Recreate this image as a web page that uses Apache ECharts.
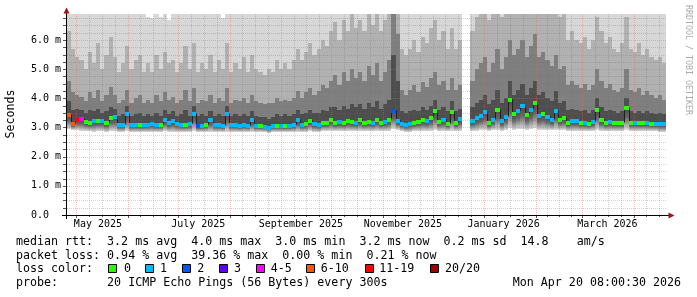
<!DOCTYPE html>
<html><head><meta charset="utf-8">
<script src="https://cdn.jsdelivr.net/npm/echarts@6/dist/echarts.min.js"></script>
<style>html,body{margin:0;padding:0;background:#fff}#c{width:697px;height:297px}</style>
</head><body><div id="c"></div><script>
// ---- data (values in ms, one step = 2.5 days, 144 steps over 360 days) ----
const STEP_DAYS = 2.5;
const median = [
3.45,3.15,3.3,3.32,3.22,3.2,3.27,3.25,3.26,3.2,
3.36,3.38,3.12,3.12,3.48,3.13,3.13,3.12,3.13,3.11,
3.14,3.12,3.13,3.3,3.2,3.25,3.17,3.13,3.13,3.15,
3.48,3.09,3.1,3.13,3.3,3.12,3.12,3.1,3.5,3.12,
3.13,3.1,3.12,3.1,3.28,3.1,3.08,3.06,3.02,3.08,
3.1,3.08,3.1,3.1,3.12,3.3,3.12,3.15,3.25,3.15,
3.12,3.2,3.18,3.3,3.2,3.22,3.2,3.25,3.22,3.2,
3.28,3.2,3.22,3.2,3.3,3.2,3.22,3.28,3.6,3.25,
3.15,3.13,3.15,3.2,3.22,3.3,3.25,3.35,3.6,3.22,
3.28,3.17,3.58,3.18,3.32,null,null,3.26,3.36,3.44,
3.55,3.2,3.3,3.63,3.26,3.4,3.98,3.49,3.6,3.78,
3.46,3.62,3.86,3.44,3.49,3.38,3.29,3.6,3.3,3.36,
3.2,3.24,3.24,3.2,3.2,3.17,3.22,3.65,3.3,3.2,
3.22,3.2,3.18,3.2,3.7,3.2,3.18,3.2,3.18,3.2,
3.17,3.16,3.15,3.15];
const lossCount = [
8,7,12,4,0,0,1,0,1,0,
0,1,1,1,1,1,1,0,1,1,
1,1,0,1,1,1,1,1,0,1,
1,2,1,0,1,1,1,1,1,1,
1,1,1,1,1,1,0,1,1,1,
0,1,0,1,1,1,1,0,0,1,
1,0,0,0,0,1,0,0,0,1,
0,0,0,1,0,0,1,0,2,1,
1,1,1,0,0,0,1,0,0,0,
1,0,0,0,1,null,null,1,1,1,
1,0,1,0,1,1,0,0,1,1,
0,1,0,1,0,1,1,1,0,0,
0,1,1,0,1,0,1,0,0,0,
1,0,0,0,0,0,1,0,0,1,
0,1,1,1];
const pingMin = [
2.95,2.9,2.9,2.88,2.87,2.88,2.86,2.87,2.88,2.86,
2.87,2.88,2.86,2.85,2.87,2.86,2.85,2.86,2.85,2.86,
2.85,2.86,2.85,2.87,2.86,2.86,2.85,2.86,2.85,2.86,
2.87,2.84,2.85,2.86,2.86,2.85,2.85,2.84,2.86,2.85,
2.86,2.84,2.85,2.84,2.86,2.84,2.83,2.83,2.82,2.83,
2.84,2.83,2.84,2.84,2.85,2.86,2.85,2.86,2.87,2.86,
2.86,2.87,2.87,2.88,2.87,2.88,2.87,2.88,2.87,2.87,
2.88,2.87,2.88,2.87,2.88,2.87,2.88,2.88,2.95,2.9,
2.87,2.86,2.86,2.87,2.87,2.88,2.88,2.89,2.9,2.88,
2.88,2.87,2.89,2.87,2.88,null,null,2.88,2.89,2.9,
2.92,2.88,2.9,2.93,2.89,2.91,2.97,2.92,2.94,2.96,
2.92,2.94,2.97,2.92,2.93,2.91,2.9,2.93,2.9,2.91,
2.88,2.89,2.89,2.88,2.88,2.87,2.88,2.92,2.89,2.88,
2.88,2.88,2.87,2.88,2.92,2.88,2.87,2.88,2.87,2.88,
2.87,2.87,2.86,2.86];
const smokeP1 = [
3.9,3.6,3.65,3.6,3.5,3.6,3.55,3.65,3.5,3.55,
3.7,3.65,3.4,3.45,3.75,3.4,3.45,3.5,3.4,3.45,
3.4,3.5,3.4,3.6,3.45,3.55,3.4,3.45,3.6,3.4,
3.75,3.4,3.45,3.4,3.55,3.4,3.45,3.4,3.75,3.4,
3.45,3.4,3.45,3.4,3.55,3.4,3.35,3.35,3.3,3.35,
3.45,3.4,3.45,3.4,3.45,3.6,3.45,3.5,3.6,3.5,
3.5,3.6,3.55,3.7,3.7,3.6,3.75,3.65,3.8,3.7,
3.8,3.65,3.85,3.7,3.9,3.65,3.8,3.95,5.5,4.6,
3.55,3.5,3.55,3.6,3.55,3.7,3.6,3.75,3.95,3.6,
3.7,3.55,3.9,3.55,3.65,null,null,3.7,3.85,3.95,
4.1,3.8,3.95,4.3,3.85,4.0,4.6,4.1,4.3,4.5,
4.1,4.35,4.6,4.1,4.2,4.0,3.9,4.25,3.85,3.9,
3.6,3.65,3.6,3.55,3.6,3.5,3.6,4.0,3.7,3.55,
3.6,3.55,3.5,3.55,4.0,3.55,3.5,3.55,3.5,3.55,
3.5,3.45,3.5,3.45];
const smokeP2 = [
4.6,4.2,4.1,4.05,3.9,4.2,4.0,4.3,3.9,4.1,
4.4,4.1,3.85,3.95,4.3,3.85,4.0,4.1,3.85,3.95,
3.85,4.1,3.9,4.2,3.95,4.05,3.85,3.95,4.3,3.9,
4.35,3.85,3.95,3.9,4.1,3.85,4.0,3.9,4.35,3.85,
3.95,3.9,4.0,3.85,4.1,3.9,3.85,3.8,3.85,3.85,
4.0,3.9,3.95,3.9,4.0,4.25,4.0,4.2,4.35,4.1,
4.25,4.45,4.35,4.6,4.8,4.45,4.9,4.6,5.0,4.7,
4.9,4.6,5.1,4.8,5.2,4.6,4.9,5.3,7.2,6.2,
4.3,4.1,4.3,4.45,4.2,4.55,4.4,4.7,4.9,4.45,
4.6,4.3,4.7,4.3,4.45,null,null,4.6,5.0,5.2,
5.4,4.9,5.2,5.7,5.0,5.4,6.0,5.5,5.7,6.0,
5.4,5.8,6.2,5.4,5.6,5.3,5.1,5.5,5.0,5.1,
4.45,4.6,4.45,4.35,4.5,4.3,4.45,5.0,4.6,4.35,
4.5,4.3,4.2,4.35,5.0,4.3,4.2,4.35,4.1,4.25,
4.1,4.0,4.1,3.95];
const smokeP3 = [
6.3,5.7,5.4,5.3,5.0,5.6,5.2,5.9,5.0,5.5,
6.1,5.4,4.9,5.2,5.8,5.0,5.3,5.5,4.9,5.2,
4.9,5.5,5.0,5.6,5.2,5.3,4.9,5.2,5.8,5.0,
5.9,4.9,5.2,5.0,5.5,4.9,5.3,5.0,5.9,4.9,
5.2,5.0,5.4,4.9,5.5,5.0,4.9,4.8,5.0,4.9,
5.3,5.0,5.2,5.0,5.3,5.7,5.3,5.6,5.9,5.5,
5.7,6.0,5.8,6.3,6.6,6.0,6.7,6.3,6.9,6.4,
6.7,6.3,7.0,6.5,7.2,6.3,6.7,7.3,8.8,8.2,
5.7,5.5,5.7,6.0,5.6,6.1,5.9,6.4,6.7,6.0,
6.3,5.7,6.4,5.7,6.0,null,null,6.3,6.8,7.0,
7.4,6.7,7.1,7.7,6.8,7.3,8.1,7.4,7.7,8.1,
7.3,7.8,8.4,7.3,7.6,7.2,6.9,7.4,6.8,6.9,
6.0,6.3,6.0,5.9,6.1,5.7,6.0,6.8,6.3,5.9,
6.1,5.7,5.6,5.9,6.8,5.7,5.6,5.9,5.5,5.7,
5.4,5.3,5.4,5.2];
const pingMax = [
11.5,10.2,9.8,9.4,9.1,10.3,9.5,10.8,9.2,9.9,
11.0,9.7,8.9,9.3,10.4,9.0,9.6,9.8,8.8,6.8,
6.75,9.9,6.8,10.0,6.7,9.6,8.9,9.4,10.3,9.0,
10.6,8.8,9.3,9.1,9.9,8.9,9.6,6.75,10.5,8.9,
9.4,9.1,9.7,8.9,9.8,9.1,8.9,8.7,9.0,8.9,
9.5,9.0,9.4,9.1,9.6,10.2,9.6,10.1,10.6,9.9,
10.2,10.7,10.4,11.1,11.6,10.7,11.8,11.2,12.1,11.3,
11.8,11.2,12.3,11.5,12.6,11.2,11.8,12.7,14.5,13.8,
10.2,9.9,10.2,10.7,10.0,10.8,10.5,11.3,11.8,10.7,
11.2,10.2,11.3,10.2,10.7,null,null,11.2,11.9,12.3,
12.9,11.8,12.4,13.4,12.0,12.7,14.0,12.9,13.4,14.0,
12.7,13.6,14.5,12.7,13.2,12.6,12.1,12.9,12.0,12.1,
10.7,11.1,10.7,10.5,10.8,10.2,10.7,11.9,11.1,10.5,
10.8,10.2,10.0,10.5,11.9,10.2,10.0,10.5,9.9,10.2,
9.7,9.5,9.7,9.4];

// axis: days since 25 Apr 2025 08:00
const monthStartDays = [5.67,36.67,66.67,97.67,128.67,158.67,189.67,219.67,250.67,281.67,309.67,340.67];
const xLabelDays = [18.6,78.9,140.6,201.9,262.4,324.8];
const xLabelText = ['May 2025','July 2025','September 2025','November 2025','January 2026','March 2026'];
const yTickValues = [0,1,2,3,4,5,6];
const Y_MAX = 6.89, X_MAX = 360;

// legend
const rttStats = [['3.2','avg'],['4.0','max'],['3.0','min'],['3.2','now'],['0.2','sd']];
const lossStats = [['0.94','avg'],['39.36','max'],['0.00','min'],['0.21','now']];
const lossLabels = ['0','1','2','3','4-5','6-10','11-19','20/20'];
const lossColors = ['#26ff00','#00b8ff','#0059ff','#5e00ff','#ff00ff','#ff5500','#ff0000','#a10000'];
const probeText = 'probe:       20 ICMP Echo Pings (56 Bytes) every 300s';
const dateText = 'Mon Apr 20 08:00:30 2026';

// ---- rendering ----
const MONO = '"DejaVu Sans Mono", monospace';
function lossBand(n){ if(n<=0)return 0; if(n<=1)return 1; if(n<=2)return 2; if(n<=3)return 3; if(n<=5)return 4; if(n<=10)return 5; if(n<=19)return 6; return 7; }

const smokeData = [], medData = [];
for (let i = 0; i < median.length; i++) {
  if (median[i] == null) continue;
  const x0 = i * STEP_DAYS, x1 = (i + 1) * STEP_DAYS;
  smokeData.push([x0, x1, pingMin[i], median[i], smokeP1[i], smokeP2[i], smokeP3[i], pingMax[i]]);
  const prev = i > 0 && median[i-1] != null ? median[i-1] : NaN;
  medData.push([x0, x1, median[i], prev, lossBand(lossCount[i])]);
}
const gridData = [];
monthStartDays.forEach((d, k) => {
  gridData.push([0, d]);
  const next = k + 1 < monthStartDays.length ? monthStartDays[k+1] : d + 30;
  const q = (next - d) / 4;
  for (let j = 1; j < 4; j++) if (d + j*q < X_MAX) gridData.push([1, d + j*q]);
});
for (let v = 0.25; v < Y_MAX; v += 0.25) {
  if (Math.abs(v - Math.round(v)) < 1e-6) gridData.push([2, v]); else gridData.push([3, v]);
}

const lowGrad = new echarts.graphic.LinearGradient(0,0,0,1,[
  {offset:0,color:'#464646'},{offset:0.45,color:'#666666'},{offset:1,color:'#dadada'}]);
const SMOKE_FILLS = [lowGrad, '#4e4e4e', '#7f7f7f', '#b1b1b1', '#d7d7d7'];

function smokeItem(params, api) {
  const cs = params.coordSys, top = cs.y, bot = cs.y + cs.height;
  const xa = Math.round(api.coord([api.value(0), 0])[0]);
  const xb = Math.round(api.coord([api.value(1), 0])[0]);
  const lv = [2,3,4,5,6,7].map(k => api.value(k));
  const kids = [];
  for (let k = 0; k < 5; k++) {
    let y1 = Math.min(Math.round(api.coord([0, lv[k]])[1]), bot);
    let y2 = Math.max(Math.round(api.coord([0, lv[k+1]])[1]), top);
    if (y1 - y2 <= 0) continue;
    kids.push({type:'rect', shape:{x:xa, y:y2, width:xb-xa, height:y1-y2}, style:{fill:SMOKE_FILLS[k]}});
  }
  return {type:'group', children:kids};
}
function gridItem(params, api) {
  const cs = params.coordSys, kind = api.value(0), v = api.value(1);
  const major = kind === 0 || kind === 2;
  const style = {stroke: major ? 'rgba(255,90,90,0.42)' : 'rgba(110,110,110,0.30)', lineWidth:1, lineDash:[1,1], lineDashOffset:0};
  let shape;
  if (kind < 2) { const x = Math.round(api.coord([v,0])[0]) + 0.5; shape = {x1:x, y1:cs.y, x2:x, y2:cs.y+cs.height}; }
  else { const y = Math.round(api.coord([0,v])[1]) + 0.5; shape = {x1:cs.x, y1:y, x2:cs.x+cs.width, y2:y}; }
  const kids = [{type:'line', shape, style}];
  if (kind < 2) { const x = shape.x1; kids.push({type:'line', shape:{x1:x,y1:cs.y+cs.height,x2:x,y2:cs.y+cs.height+(major?3:2)}, style:{stroke:'#555',lineWidth:1}}); }
  else { const y = shape.y1; kids.push({type:'line', shape:{x1:cs.x-4,y1:y,x2:cs.x-1,y2:y}, style:{stroke:'#555',lineWidth:1}}); }
  return {type:'group', children:kids};
}
function medLineItem(params, api) {
  const xa = Math.round(api.coord([api.value(0), 0])[0]);
  const xb = Math.round(api.coord([api.value(1), 0])[0]);
  const y = Math.round(api.coord([0, api.value(2)])[1]) + 0.5;
  const kids = [{type:'line', shape:{x1:xa, y1:y, x2:xb, y2:y}, style:{stroke:'#202020', lineWidth:1}}];
  const pv = api.value(3);
  if (!isNaN(pv)) {
    const yp = Math.round(api.coord([0, pv])[1]) + 0.5;
    kids.push({type:'line', shape:{x1:xa+0.5, y1:yp, x2:xa+0.5, y2:y}, style:{stroke:'#202020', lineWidth:1}});
  }
  return {type:'group', children:kids};
}
function medBlockItem(params, api) {
  const xa = Math.round(api.coord([api.value(0), 0])[0]);
  const xb = Math.round(api.coord([api.value(1), 0])[0]);
  const r = Math.round(api.coord([0, api.value(2)])[1]);
  return {type:'rect', shape:{x:xa, y:r-1, width:xb-xa, height:4}, style:{fill:lossColors[api.value(4)]}};
}

const line1 = 'median rtt:  ' + rttStats.map(([v,l]) => v + ' ms ' + l).join('  ') + '  14.8    am/s';
const line2 = 'packet loss: ' + lossStats.map(([v,l]) => v + ' % ' + l).join('  ');
const FONT = '11.65px ' + MONO;
const legendBoxX = [108,145,182,219,256,306,365,430];
const legendTextX = [124,160,197.3,234,270.7,320.7,379.3,445];
const graphics = [
  {type:'line', z:100, shape:{x1:66.5,y1:219,x2:66.5,y2:11}, style:{stroke:'#000',lineWidth:1}},
  {type:'polygon', z:100, shape:{points:[[63.5,13.5],[69.5,13.5],[66.5,7.5]]}, style:{fill:'#a01414'}},
  {type:'line', z:100, shape:{x1:62,y1:215.5,x2:670,y2:215.5}, style:{stroke:'#000',lineWidth:1}},
  {type:'polygon', z:100, shape:{points:[[668.5,212.5],[668.5,218.5],[674.5,215.5]]}, style:{fill:'#a01414'}},
  {type:'text', z:100, x:11, y:114, rotation:Math.PI/2, style:{text:'Seconds', font:FONT, fill:'#000', align:'center', verticalAlign:'middle'}},
  {type:'text', z:100, x:688.5, y:60, rotation:-Math.PI/2, style:{text:'RRDTOOL / TOBI OETIKER', font:'8.3px ' + MONO, fill:'#ababab', align:'center', verticalAlign:'middle'}},
  {type:'text', z:100, x:16, y:241.7, style:{text:line1, font:FONT, fill:'#000', verticalAlign:'middle'}},
  {type:'text', z:100, x:16, y:255.5, style:{text:line2, font:FONT, fill:'#000', verticalAlign:'middle'}},
  {type:'text', z:100, x:16, y:269.3, style:{text:'loss color:', font:FONT, fill:'#000', verticalAlign:'middle'}},
  {type:'text', z:100, x:16, y:283.3, style:{text:probeText, font:FONT, fill:'#000', verticalAlign:'middle'}},
  {type:'text', z:100, x:681, y:283.3, style:{text:dateText, font:FONT, fill:'#000', align:'right', verticalAlign:'middle'}}
];
lossLabels.forEach((lab, k) => {
  graphics.push({type:'rect', z:100, shape:{x:legendBoxX[k]+0.5, y:264.5, width:8, height:8}, style:{fill:lossColors[k], stroke:'#000', lineWidth:1}});
  graphics.push({type:'text', z:100, x:legendTextX[k], y:269.3, style:{text:lab, font:FONT, fill:'#000', verticalAlign:'middle'}});
});

const chart = echarts.init(document.getElementById('c'), null, {renderer:'canvas'});
chart.setOption({
  animation:false,
  backgroundColor:'#ffffff',
  grid:{left:67, top:14, width:599, height:201, containLabel:false},
  xAxis:{type:'value', min:0, max:X_MAX, axisLine:{show:false}, axisTick:{show:false}, splitLine:{show:false},
    axisLabel:{customValues:xLabelDays, margin:4, color:'#000', fontFamily:MONO, fontSize:10, hideOverlap:false,
      formatter:v => { const k = xLabelDays.findIndex(d => Math.abs(d - v) < 0.01); return k >= 0 ? xLabelText[k] : ''; }}},
  yAxis:{type:'value', min:0, max:Y_MAX, interval:1, axisLine:{show:false}, axisTick:{show:false}, splitLine:{show:false},
    axisLabel:{customValues:yTickValues, align:'left', margin:36, color:'#000', fontFamily:MONO, fontSize:10,
      formatter:v => { if (Math.abs(v - Math.round(v)) > 1e-6) return ''; return v === 0 ? '0.0' : v.toFixed(1) + ' m'; }}},
  graphic:graphics,
  series:[
    {type:'custom', name:'smoke', z:1, silent:true, renderItem:smokeItem, data:smokeData, encode:{x:[0,1], y:[2,3,4,5,6,7]}},
    {type:'custom', name:'grid', z:2, silent:true, renderItem:gridItem, data:gridData, encode:{x:0, y:1}},
    {type:'custom', name:'median', z:3, silent:true, renderItem:medLineItem, data:medData, encode:{x:[0,1], y:2}},
    {type:'custom', name:'loss', z:4, silent:true, renderItem:medBlockItem, data:medData, encode:{x:[0,1], y:2}}
  ]
});
</script></body></html>
